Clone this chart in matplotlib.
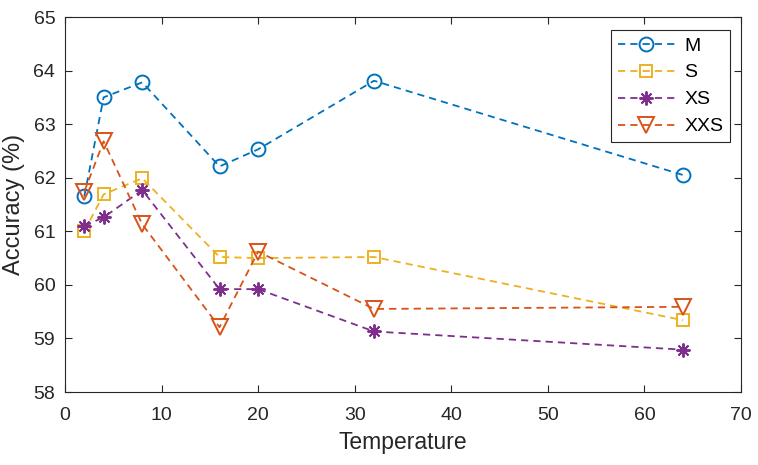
import matplotlib.pyplot as plt

plt.rcParams['font.family'] = ['Liberation Sans', 'DejaVu Sans']

temps = [2, 4, 8, 16, 20, 32, 64]
acc_m = [61.65, 63.50, 63.78, 62.21, 62.53, 63.81, 62.05]
acc_s = [61.00, 61.69, 61.99, 60.52, 60.50, 60.52, 59.34]
acc_xs = [61.10, 61.26, 61.77, 59.92, 59.92, 59.13, 58.79]
acc_xxs = [61.74, 62.68, 61.13, 59.21, 60.62, 59.55, 59.59]

# name, values, marker, size, colour (matlab default order)
series = [
    ('M', acc_m, 'o', 10, (0, 0.447, 0.741)),
    ('S', acc_s, 's', 8.5, (0.929, 0.694, 0.125)),
    ('XS', acc_xs, (8, 2, 0), 10, (0.494, 0.184, 0.556)),
    ('XXS', acc_xxs, 'v', 11, (0.85, 0.325, 0.098)),
]

fig = plt.figure(figsize=(7.58, 4.65), dpi=100)
ax = fig.add_axes([65/758, 1 - 392/465, (741 - 65)/758, (392 - 17)/465])

for name, vals, mk, ms, col in series:
    ax.plot(temps, vals, linestyle='--', dashes=(4, 2.8), marker=mk, color=col,
            markersize=ms, markerfacecolor='none', markeredgecolor=col,
            markeredgewidth=1.4, linewidth=1.3, label=name)

ax.set_xlim(0, 70)
ax.set_ylim(58, 65)
ax.set_xticks(range(0, 71, 10))
ax.set_yticks(range(58, 66))
ax.tick_params(direction='in', top=True, right=True, labelsize=14, length=5,
               width=0.8, colors='#262626', labelcolor='#262626')
ax.tick_params(axis='x', pad=11)
ax.tick_params(axis='y', pad=7)
for s in ax.spines.values():
    s.set_color('#262626')
    s.set_linewidth(0.8)
ax.set_xlabel('Temperature', fontsize=16.5, color='#262626', labelpad=5)
ax.set_ylabel('Accuracy (%)', fontsize=17, color='#262626', labelpad=6)

leg = ax.legend(loc='upper right', bbox_to_anchor=(0.984, 0.965), fontsize=14,
                handlelength=2.9, handletextpad=0.5, fancybox=False,
                edgecolor='#262626', framealpha=1, borderpad=0.35,
                labelspacing=0.48, borderaxespad=0)
leg.get_frame().set_linewidth(0.8)
for t in leg.get_texts():
    t.set_color('black')

fig.savefig('out.png', dpi=100)
